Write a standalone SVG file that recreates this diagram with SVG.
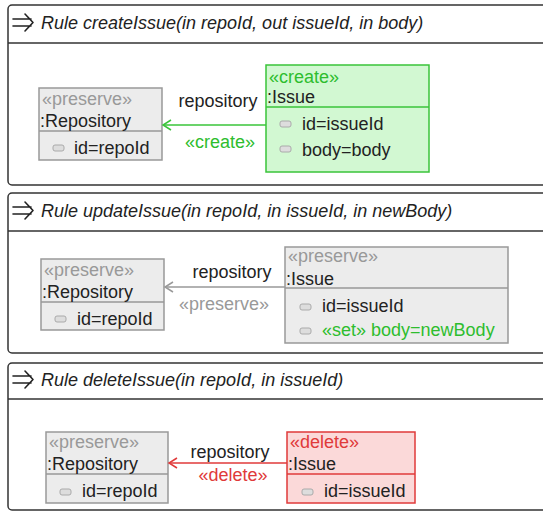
<svg xmlns="http://www.w3.org/2000/svg" width="543" height="512" viewBox="0 0 543 512">
<style>
text{font-family:"Liberation Sans",Arial,sans-serif;font-size:18px;fill:#222}
.hdr{font-style:italic}
.frame{fill:#fff;stroke:#333;stroke-width:1.5}
.hline{stroke:#333;stroke-width:1.5}
.pres{fill:#ececec;stroke:#999;stroke-width:1.5}
.crt{fill:#d2f8d2;stroke:#3ac43a;stroke-width:1.5}
.del{fill:#fbd9d9;stroke:#e03a3a;stroke-width:1.5}
.stg{fill:#999}
.stc{fill:#2ebd2e}
.std{fill:#e03a3a}
.icon{fill:#ddd;stroke:#aaa;stroke-width:1}
.dg{stroke:#999;stroke-width:1.5}
.dc{stroke:#3ac43a;stroke-width:1.5}
.dd{stroke:#e03a3a;stroke-width:1.5}
.sym{fill:none;stroke:#222;stroke-width:1.6;stroke-linecap:round;stroke-linejoin:round}
.mid{text-anchor:middle}
</style>
<defs>
<marker id="ag" markerWidth="12" markerHeight="12" refX="10" refY="6" orient="auto" markerUnits="userSpaceOnUse"><path d="M2,1 L10,6 L2,11" fill="none" stroke="#999" stroke-width="1.5"/></marker>
<marker id="ac" markerWidth="12" markerHeight="12" refX="10" refY="6" orient="auto" markerUnits="userSpaceOnUse"><path d="M2,1 L10,6 L2,11" fill="none" stroke="#3ac43a" stroke-width="1.5"/></marker>
<marker id="ad" markerWidth="12" markerHeight="12" refX="10" refY="6" orient="auto" markerUnits="userSpaceOnUse"><path d="M2,1 L10,6 L2,11" fill="none" stroke="#e03a3a" stroke-width="1.5"/></marker>
</defs>

<g id="rule-createIssue">
<rect class="frame" x="8" y="5" width="545" height="180" rx="4"/>
<line class="hline" x1="8" y1="43" x2="543" y2="43"/>
<path class="sym" d="M13,19 H31 M13,26 H31 M25,14 L33,22.5 L25,31"/>
<text class="hdr" x="41" y="29">Rule createIssue(in repoId, out issueId, in body)</text>
</g>
<g id="rule-updateIssue">
<rect class="frame" x="8" y="193" width="545" height="160" rx="4"/>
<line class="hline" x1="8" y1="231" x2="543" y2="231"/>
<path class="sym" d="M13,207 H31 M13,214 H31 M25,202 L33,210.5 L25,219"/>
<text class="hdr" x="41" y="217">Rule updateIssue(in repoId, in issueId, in newBody)</text>
</g>
<g id="rule-deleteIssue">
<rect class="frame" x="8" y="363" width="545" height="147" rx="4"/>
<line class="hline" x1="8" y1="399" x2="543" y2="399"/>
<path class="sym" d="M13,376 H31 M13,383 H31 M25,371 L33,379.5 L25,388"/>
<text class="hdr" x="41" y="386">Rule deleteIssue(in repoId, in issueId)</text>
</g>

<g id="repo1">
<rect class="pres" x="39" y="88" width="123" height="72"/>
<line class="dg" x1="39" y1="131" x2="162" y2="131"/>
<text class="stg" x="42" y="105">«preserve»</text>
<text x="40" y="127">:Repository</text>
<rect class="icon" x="53" y="145" width="11" height="6" rx="2"/>
<text x="74" y="154">id=repoId</text>
</g>
<g id="issue1">
<rect class="crt" x="266" y="65" width="163" height="107"/>
<line class="dc" x1="266" y1="107" x2="429" y2="107"/>
<text class="stc" x="269" y="83">«create»</text>
<text x="267" y="103">:Issue</text>
<rect class="icon" x="280" y="121" width="11" height="6" rx="2"/>
<text x="302" y="130">id=issueId</text>
<rect class="icon" x="280" y="146" width="11" height="6" rx="2"/>
<text x="302" y="156">body=body</text>
</g>

<g id="repo2">
<rect class="pres" x="41" y="259" width="123" height="71"/>
<line class="dg" x1="41" y1="302" x2="164" y2="302"/>
<text class="stg" x="44" y="276">«preserve»</text>
<text x="42" y="298">:Repository</text>
<rect class="icon" x="55" y="316" width="11" height="6" rx="2"/>
<text x="77" y="325">id=repoId</text>
</g>
<g id="issue2">
<rect class="pres" x="285" y="247" width="223" height="96"/>
<line class="dg" x1="285" y1="288" x2="508" y2="288"/>
<text class="stg" x="288" y="262">«preserve»</text>
<text x="286" y="285">:Issue</text>
<rect class="icon" x="300" y="304" width="11" height="6" rx="2"/>
<text x="322" y="312">id=issueId</text>
<rect class="icon" x="300" y="328" width="11" height="6" rx="2"/>
<text class="stc" x="322" y="336">«set» body=newBody</text>
</g>

<g id="repo3">
<rect class="pres" x="46" y="432" width="122" height="71"/>
<line class="dg" x1="46" y1="474" x2="168" y2="474"/>
<text class="stg" x="49" y="448">«preserve»</text>
<text x="47" y="470">:Repository</text>
<rect class="icon" x="60" y="489" width="11" height="6" rx="2"/>
<text x="82" y="497">id=repoId</text>
</g>
<g id="issue3">
<rect class="del" x="287" y="432" width="128" height="71"/>
<line class="dd" x1="287" y1="474" x2="415" y2="474"/>
<text class="std" x="290" y="448">«delete»</text>
<text x="288" y="470">:Issue</text>
<rect class="icon" x="302" y="489" width="11" height="6" rx="2"/>
<text x="324" y="497">id=issueId</text>
</g>

<g id="connectors">
<line class="dc" x1="266" y1="125" x2="163" y2="125" marker-end="url(#ac)"/>
<text class="mid" x="218" y="107">repository</text>
<text class="mid stc" x="220" y="148">«create»</text>
<line class="dg" x1="285" y1="287" x2="165" y2="287" marker-end="url(#ag)"/>
<text class="mid" x="232" y="278">repository</text>
<text class="mid stg" x="224" y="310">«preserve»</text>
<line class="dd" x1="287" y1="463" x2="169" y2="463" marker-end="url(#ad)"/>
<text class="mid" x="230" y="458">repository</text>
<text class="mid std" x="233" y="481">«delete»</text>
</g>
</svg>
